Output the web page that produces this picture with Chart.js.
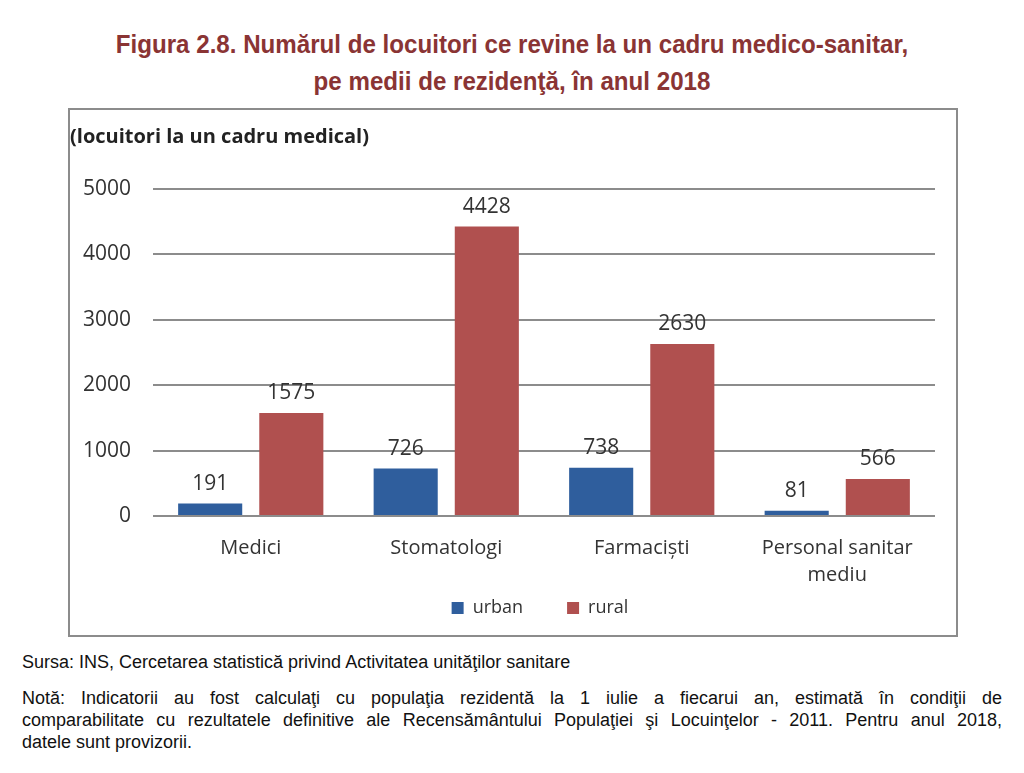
<!DOCTYPE html>
<html lang="ro">
<head>
<meta charset="utf-8">
<script src="https://cdn.jsdelivr.net/npm/chart.js@4/dist/chart.umd.min.js"></script>
<style>
  body { margin: 0; background: #fff; width: 1024px; height: 773px; position: relative; overflow: hidden; }
  .titlu { position: absolute; left: 0; width: 1024px; text-align: center; color: #8a3434;
           font-family: 'Liberation Sans', Arial, sans-serif; font-weight: bold; font-size: 25px;
           transform: scaleX(0.965); transform-origin: 512px 0; }
  #cadru { position: absolute; left: 68px; top: 108px; width: 886px; height: 525px; border: 2px solid #8c8c8c; }
  .nota { position: absolute; left: 22px; width: 980px; color: #111;
          font-family: 'Liberation Sans', Arial, sans-serif; font-size: 18px; line-height: 22px; white-space: nowrap; }
  .just { text-align: justify; text-align-last: justify; white-space: normal; }
</style>
</head>
<body>
<div class="titlu" style="top:30px">Figura 2.8. Numărul de locuitori ce revine la un cadru medico-sanitar,</div>
<div class="titlu" style="top:67px">pe medii de rezidenţă, în anul 2018</div>
<div id="cadru"><canvas id="grafic"></canvas></div>
<div class="nota" style="top:651px">Sursa: INS, Cercetarea statistică privind Activitatea unităţilor sanitare</div>
<div class="nota just" style="top:687px">Notă: Indicatorii au fost calculaţi cu populaţia rezidentă la 1 iulie a fiecarui an, estimată în condiţii de</div>
<div class="nota just" style="top:709px">comparabilitate cu rezultatele definitive ale Recensământului Populaţiei şi Locuinţelor - 2011. Pentru anul 2018,</div>
<div class="nota" style="top:731px">datele sunt provizorii.</div>
<script>
// date
const categorii = ['Medici', 'Stomatologi', 'Farmacişti', ['Personal sanitar', 'mediu']];
const urban = [191, 726, 738, 81];
const rural = [1575, 4428, 2630, 566];

const font = "'Open Sans', 'Noto Sans', sans-serif";

// etichete cu valori deasupra barelor
const eticheteValori = {
  id: 'eticheteValori',
  afterDatasetsDraw(chart) {
    const ctx = chart.ctx;
    ctx.save();
    ctx.font = '21px ' + font;
    ctx.fillStyle = '#333';
    ctx.textAlign = 'center';
    ctx.textBaseline = 'bottom';
    chart.data.datasets.forEach((ds, i) => {
      chart.getDatasetMeta(i).data.forEach((bar, j) => {
        ctx.fillText(ds.data[j], bar.x, bar.y - 9);
      });
    });
    ctx.restore();
  }
};

// legenda: ocupa mai putin loc pe verticala (se suprapune cu zona etichetelor axei x)
// si e centrata pe zona graficului, ca in Excel
const SUPRAPUNERE = 36;
const legendaCentrata = {
  id: 'legendaCentrata',
  afterInit(chart) {
    const l = chart.legend;
    const fitVechi = l.fit.bind(l);
    l.fit = function () {
      fitVechi();
      this._inaltimeReala = this.height;
      this.height -= SUPRAPUNERE;
    };
  },
  afterLayout(chart) {
    const l = chart.legend;
    const dx = (chart.chartArea.left + chart.chartArea.right) / 2 - (l.left + l.right) / 2 - 4;
    l.left += dx;
    l.right += dx;
    l.top = l.bottom - l._inaltimeReala;
  }
};

new Chart(document.querySelector('#grafic'), {
  type: 'bar',
  data: {
    labels: categorii,
    datasets: [
      { label: 'urban', data: urban, backgroundColor: '#2f5e9d' },
      { label: 'rural', data: rural, backgroundColor: '#b0504f' }
    ]
  },
  options: {
    responsive: true,
    maintainAspectRatio: false,
    animation: false,
    categoryPercentage: 0.83,
    barPercentage: 0.79,
    layout: { padding: { left: 0, right: 21, top: 8, bottom: 8 } },
    scales: {
      y: {
        min: 0,
        max: 5000,
        afterFit: (s) => { s.width = 83; },
        border: { display: false },
        grid: { color: '#8c8c8c', lineWidth: 2, drawTicks: false },
        ticks: { stepSize: 1000, padding: 22, color: '#333', font: { family: font, size: 21 },
                 callback: (v) => String(v) }
      },
      x: {
        afterFit: (s) => { s.height = 75; },
        border: { display: false },
        grid: { display: false },
        ticks: { padding: 11, color: '#333', font: { family: font, size: 20, lineHeight: 1.35 } }
      }
    },
    plugins: {
      title: {
        display: true,
        text: '(locuitori la un cadru medical)',
        align: 'start',
        color: '#222',
        font: { family: font, size: 20, weight: 'bold' },
        padding: { top: 7, bottom: 40 }
      },
      legend: {
        position: 'bottom',
        labels: { boxWidth: 12, boxHeight: 12, padding: 44, color: '#333', font: { family: font, size: 18 } }
      },
      tooltip: { enabled: false }
    }
  },
  plugins: [eticheteValori, legendaCentrata]
});
</script>
</body>
</html>
